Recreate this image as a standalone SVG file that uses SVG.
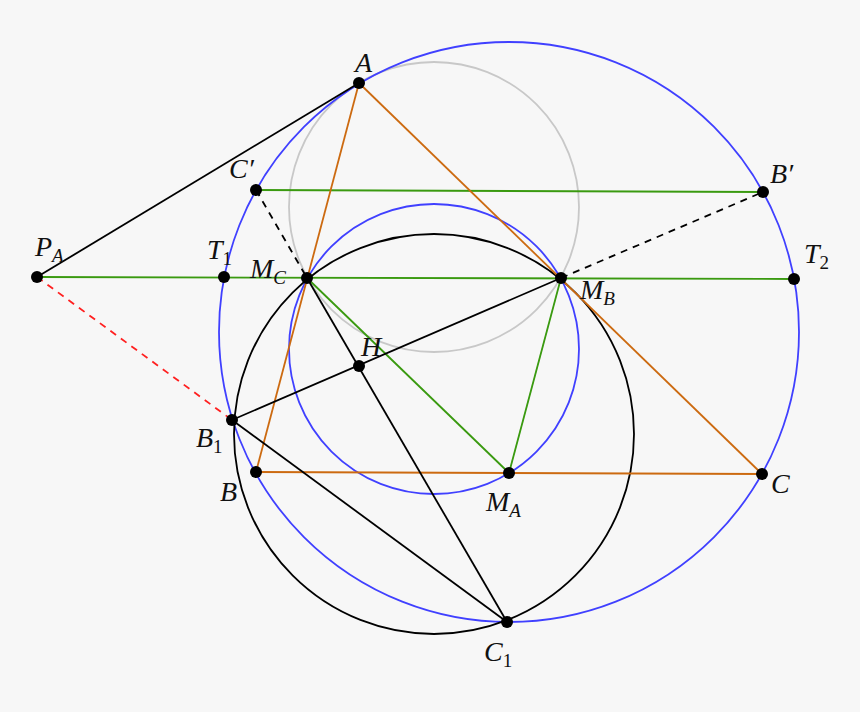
<svg xmlns="http://www.w3.org/2000/svg" width="860" height="712" viewBox="0 0 860 712">
<style>
.bg{fill:#f7f7f7}
.c{fill:none;stroke-width:1.8}
.blue{stroke:#4040ff}
.gray{stroke:#c8c8c8}
.blk{stroke:#000}
.l{fill:none;stroke-width:1.8}
.or{stroke:#cc6a10}
.gr{stroke:#3a9a10}
.dash{stroke-dasharray:7 6}
.red{stroke:#ff2020}
.pt{fill:#000}
.t{font-family:'Liberation Serif','Times New Roman',serif;font-style:italic;font-size:28px;fill:#111}
.sub{font-size:19px}
.up{font-style:normal}
</style>
<rect class="bg" width="860" height="712"/>
<g id="circles">
<circle class="c gray" cx="434" cy="207" r="145"/>
<circle class="c blue" cx="509" cy="332" r="290"/>
<circle class="c blue" cx="434" cy="349" r="145"/>
<circle class="c blk" cx="434" cy="434" r="200"/>
</g>
<g id="connectors">
<line class="l gr" x1="256" y1="190" x2="763" y2="192"/>
<line class="l gr" x1="37" y1="277" x2="794" y2="279"/>
<line class="l gr" x1="307" y1="278" x2="509" y2="473"/>
<line class="l gr" x1="561" y1="278" x2="509" y2="473"/>
<line class="l or" x1="359" y1="83" x2="256" y2="472"/>
<line class="l or" x1="359" y1="83" x2="762" y2="474"/>
<line class="l or" x1="256" y1="472" x2="762" y2="474"/>
<line class="l blk" x1="37" y1="277" x2="359" y2="83"/>
<line class="l blk" x1="307" y1="278" x2="507" y2="622"/>
<line class="l blk" x1="232" y1="420" x2="561" y2="278"/>
<line class="l blk" x1="232" y1="420" x2="507" y2="622"/>
<line class="l blk dash" x1="256" y1="190" x2="307" y2="278"/>
<line class="l blk dash" x1="561" y1="278" x2="763" y2="192"/>
<line class="l red dash" x1="37" y1="277" x2="232" y2="420"/>
</g>
<g id="A"><circle class="pt" cx="359" cy="83" r="6"/><text class="t" x="355" y="72">A</text></g>
<g id="B"><circle class="pt" cx="256" cy="472" r="6"/><text class="t" x="220" y="501">B</text></g>
<g id="C"><circle class="pt" cx="762" cy="474" r="6"/><text class="t" x="771" y="493">C</text></g>
<g id="Cp"><circle class="pt" cx="256" cy="190" r="6"/><text class="t" x="229" y="178">C′</text></g>
<g id="Bp"><circle class="pt" cx="763" cy="192" r="6"/><text class="t" x="770" y="183">B′</text></g>
<g id="PA"><circle class="pt" cx="37" cy="277" r="6"/><text class="t" x="35" y="256">P<tspan class="sub" dy="6">A</tspan></text></g>
<g id="T1"><circle class="pt" cx="224" cy="277" r="6"/><text class="t" x="207" y="259">T<tspan class="sub up" dy="6">1</tspan></text></g>
<g id="MC"><circle class="pt" cx="307" cy="278" r="6"/><text class="t" x="250" y="278">M<tspan class="sub" dy="6">C</tspan></text></g>
<g id="MB"><circle class="pt" cx="561" cy="278" r="6"/><text class="t" x="580" y="299">M<tspan class="sub" dy="6">B</tspan></text></g>
<g id="T2"><circle class="pt" cx="794" cy="279" r="6"/><text class="t" x="804" y="263">T<tspan class="sub up" dy="6">2</tspan></text></g>
<g id="H"><circle class="pt" cx="359" cy="366" r="6"/><text class="t" x="361" y="356">H</text></g>
<g id="B1"><circle class="pt" cx="232" cy="420" r="6"/><text class="t" x="196" y="447">B<tspan class="sub up" dy="6">1</tspan></text></g>
<g id="MA"><circle class="pt" cx="509" cy="473" r="6"/><text class="t" x="486" y="511">M<tspan class="sub" dy="6">A</tspan></text></g>
<g id="C1"><circle class="pt" cx="507" cy="622" r="6"/><text class="t" x="484" y="661">C<tspan class="sub up" dy="6">1</tspan></text></g>
</svg>
